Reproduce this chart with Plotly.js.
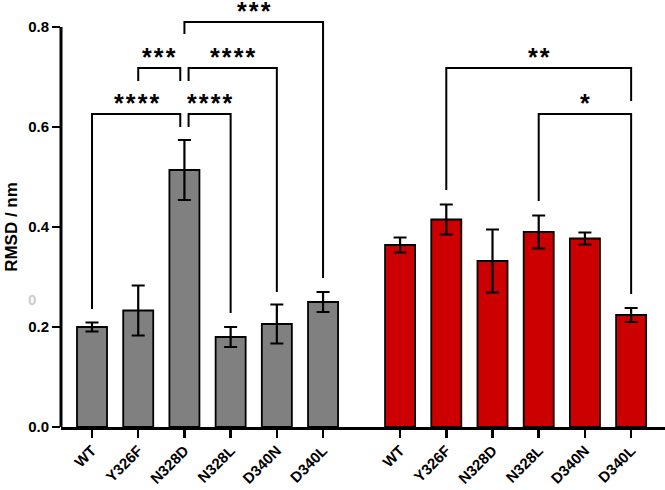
<!DOCTYPE html>
<html>
<head>
<meta charset="utf-8">
<script src="https://cdn.plot.ly/plotly-3.0.1.min.js"></script>
<style>html,body{margin:0;padding:0;background:#fff;}#chart{width:665px;height:490px;}</style>
</head>
<body>
<div id="chart"></div>
<script>
// ---- data ----
const labels = ['WT', 'Y326F', 'N328D', 'N328L', 'D340N', 'D340L'];
const greyMeans = [0.200, 0.233, 0.514, 0.180, 0.206, 0.250];
const greyErrs  = [0.009, 0.050, 0.060, 0.020, 0.039, 0.020];
const redMeans  = [0.364, 0.415, 0.332, 0.390, 0.377, 0.224];
const redErrs   = [0.015, 0.030, 0.063, 0.033, 0.012, 0.014];
const yTicks = [0, 0.2, 0.4, 0.6, 0.8];

// significance comparisons: group, from index, to index, bar level, end levels, label
const sigGroup  = [0, 0, 0, 0, 0, 1, 1];
const sigFrom   = [0, 2, 1, 2, 2, 1, 3];
const sigTo     = [2, 3, 2, 4, 5, 5, 5];
const sigTop    = [0.626, 0.626, 0.718, 0.718, 0.810, 0.718, 0.626];
const sigEndL   = [0.236, 0.600, 0.692, 0.692, 0.786, 0.474, 0.452];
const sigEndR   = [0.600, 0.228, 0.692, 0.270, 0.298, 0.652, 0.266];
const sigStars  = [4, 4, 3, 4, 3, 2, 1];

// ---- layout helpers ----
const GAP = 6.667;             // position of second group start
const SPLIT = 0.09;            // small split of bracket ends sharing a bar
const xGrey = labels.map((_, i) => i);
const xRed  = labels.map((_, i) => i + GAP);
const FONT = 'Liberation Sans, Arial, sans-serif';

function barTrace(x, y, e, color) {
  return {
    type: 'bar', x: x, y: y, width: 0.65,
    marker: {color: color, line: {color: '#000', width: 1.8}},
    error_y: {type: 'data', array: e, visible: true, color: '#000', thickness: 2.2, width: 6.5},
    hoverinfo: 'none', showlegend: false
  };
}

const traces = [
  barTrace(xGrey, greyMeans, greyErrs, '#808080'),
  barTrace(xRed, redMeans, redErrs, '#CC0000')
];

const shapes = [];
const annotations = [];
for (let k = 0; k < sigFrom.length; k++) {
  const base = sigGroup[k] === 0 ? 0 : GAP;
  let x1 = base + sigFrom[k];
  let x2 = base + sigTo[k];
  const shared = (idx, lvl) => {
    let n = 0;
    for (let j = 0; j < sigFrom.length; j++) {
      if (sigGroup[j] === sigGroup[k] && sigTop[j] === lvl && (sigFrom[j] === idx || sigTo[j] === idx)) n++;
    }
    return n > 1;
  };
  if (shared(sigFrom[k], sigTop[k])) x1 += SPLIT;
  if (shared(sigTo[k], sigTop[k])) x2 -= SPLIT;
  shapes.push({
    type: 'path', xref: 'x', yref: 'y',
    path: `M ${x1},${sigEndL[k]} L ${x1},${sigTop[k]} L ${x2},${sigTop[k]} L ${x2},${sigEndR[k]}`,
    line: {color: '#000', width: 2}
  });
  annotations.push({
    xref: 'x', yref: 'y', x: (x1 + x2) / 2, y: sigTop[k],
    text: Array(sigStars[k]).fill('*').join('\u200A'), showarrow: false, yanchor: 'middle', yshift: 11,
    borderpad: 0,
    font: {family: FONT, size: 25, color: '#000', weight: 'bold'}
  });
}

// y axis line only up to the top tick
shapes.push({
  type: 'line', xref: 'paper', yref: 'y', x0: 0, x1: 0,
  y0: 0, y1: yTicks[yTicks.length - 1],
  line: {color: '#000', width: 3}
});

// faint stray label seen in the reference
annotations.push({
  xref: 'paper', yref: 'y', x: -0.058, y: 0.256, text: '0', showarrow: false,
  font: {family: FONT, size: 15, color: '#cccccc'}
});

// y-axis title
annotations.push({
  xref: 'paper', yref: 'y', x: -0.083, y: 0.4, xanchor: 'center', yanchor: 'middle',
  text: 'RMSD / nm', textangle: -90, showarrow: false,
  font: {family: FONT, size: 17, color: '#000', weight: 'bold'}
});

const layout = {
  width: 665, height: 490,
  margin: {l: 61, r: 0, t: 2, b: 63},
  paper_bgcolor: '#fff', plot_bgcolor: '#fff',
  font: {family: FONT, size: 16, color: '#000', weight: 'bold'},
  xaxis: {
    range: [-0.671, 12.40],
    tickvals: xGrey.concat(xRed),
    ticktext: labels.concat(labels),
    tickangle: -45,
    ticks: 'outside', ticklen: 8, tickwidth: 2.5, tickcolor: '#000',
    ticklabelstandoff: -2,
    showline: true, linecolor: '#000', linewidth: 3,
    showgrid: false, zeroline: false,
    tickfont: {family: FONT, size: 15, color: '#000', weight: 'bold'}
  },
  yaxis: {
    range: [0, 0.85],
    tickvals: yTicks,
    tickformat: '.1f',
    ticks: 'outside', ticklen: 8, tickwidth: 2.5, tickcolor: '#000',
    showline: false, showgrid: false, zeroline: false,
    tickfont: {family: FONT, size: 15, color: '#000', weight: 'bold'}
  },
  shapes: shapes,
  annotations: annotations
};

Plotly.newPlot('chart', traces, layout, {displayModeBar: false, staticPlot: true});
</script>
</body>
</html>
